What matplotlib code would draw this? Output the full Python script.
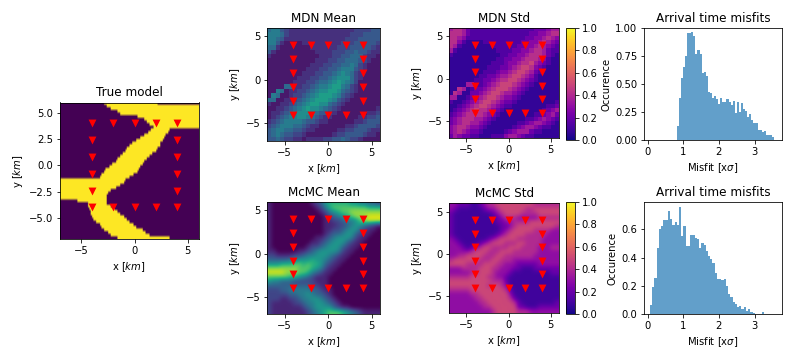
import matplotlib

matplotlib.use("Agg")
import matplotlib.pyplot as plt
import numpy as np

# Receiver positions in km
rec_x = [-4, -2, 0, 2, 4, -4, -2, 0, 2, 4, -4, 4, -4, 4, -4, 4, -4, 4]
rec_y = [4, 4, 4, 4, 4, -4, -4, -4, -4, -4, 2.4, 2.4, 0.8, 0.8, -0.8, -0.8, -2.4, -2.4]

# True model: yellow span (x start, x end) of each 0.25 km row, top row first
true_spans = [
    (-2.9, 2.1), (-2.6, 6), (-2.3, 6), (-1.65, 6), (-1.4, 6), (0.3, 6), (0.85, 6),
    (1.1, 6), (1.43, 6), (1.8, 6), (1.55, 3.31), (1.24, 3.13), (0.92, 2.9), (0.55, 2.75),
    (0.17, 2.59), (-0.24, 2.43), (-0.46, 2.37), (-0.71, 2.18), (-0.93, 1.96), (-1.09, 1.65),
    (-1.4, 1.33), (-1.6, 1.11), (-1.81, 0.92), (-2.13, 0.7), (-2.35, 0.55), (-2.75, 0.39),
    (-2.9, 0.23), (-3.07, -0.08), (-3.3, -0.46), (-7, -0.87), (-7, -1.02), (-7, -1.4),
    (-7, -1.81), (-7, -2.28), (-7, -2.5), (-7, -2.6), (-7, -2.66), (-5.43, -2.66),
    (-4.42, -2.6), (-4.33, -2.2), (-4.23, -1.87), (-4.17, -1.6), (-4.07, -1.34),
    (-3.98, -1.02), (-3.86, -0.8), (-3.6, -0.55), (-3.3, -0.15), (-3.07, 0.17),
    (-2.85, 0.7), (-2.44, 1.02), (-2.22, 1.43), (-1.65, 3.2),
]

# Image panels, one digit per 0.5 km cell, top row first
mdn_mean = [
    "56643222222222222222333344", "66653222222222222223334444",
    "66542222222222222233344444", "66421111222222222333444443",
    "55211111112222223334444432", "42111111111222233344544322",
    "21111111111122233445553221", "11111111111222334455543211",
    "11111111112223344556532111", "11111111122233445666432111",
    "11111111222334456765321111", "11111112223344567775321111",
    "11111122233455678765311111", "11115522334566788653211111",
    "11651223345677887543211111", "16511233456788876432111111",
    "55112234567888764321111111", "21122345678877543211111111",
    "11223456787765432111111112", "12234567776544321111111223",
    "12345667765432211111122334", "23456666544322111111223444",
    "34566655432211111122344443", "45665544322111112233444322",
    "45654433211111123344443221", "44543322122223344543321111",
]
mdn_std = [
    "56653222222222222222333455", "66653222222222222223344566",
    "66542222222222222233445654", "66421111222222222334456543",
    "65211111112222223344565432", "52111111111222233445665322",
    "21111111111122334456665321", "11111111111223344566654211",
    "11111111112223445667543211", "11111111122233456776432111",
    "11111111222344567765321111", "11111112233455677654211111",
    "11111122334566776543211111", "11115522345677765432111111",
    "11651233456777654321111111", "16511334567765543211111111",
    "55112345677654432111111111", "21123456776543321111111112",
    "11234567765432211111111223", "12345676654321111111112345",
    "23456666543211111111223453", "34566655432111111122345432",
    "34566554321111112234554321", "45665443211111123455432211",
    "45654332111112345553221111", "35433221112224554322111111",
]
mcmc_mean = [
    "10000000001235666665544332", "10000000000124677777777666",
    "10000000000012456778888888", "10000000000001234567888999",
    "10000000000001122344578999", "10000000000001112234554321",
    "10000000000001122345532110", "10000000000001233455321100",
    "10000000000112345554211000", "10000000001123455532110000",
    "10000000012234555321100000", "11000001123455554211000000",
    "22111122344555432110000000", "33333445556554321100000000",
    "55566677676653211000000000", "88888887776542110000000000",
    "99998887764321100000000000", "77777665432111000000000000",
    "54433322222111000000000000", "33333333332211000000000000",
    "22233444443321100000000000", "22222334454332100000000000",
    "22211223445543210000000000", "21111122344554321000000000",
    "21111111234555532110000000", "21111111123456777654321111",
]
mcmc_std = [
    "33222112344555555555444444", "32111111233455555544555555",
    "21111111112345555444455555", "21111111111234443333344444",
    "21111111111223344445555555", "21111111111122345555555554",
    "21111111111123455555444433", "21111111111234555544444333",
    "32111111123455554444443333", "33211112345554445544443333",
    "33321234554444555444433344", "33333455544455544444433333",
    "33445555444554444444333333", "45555554445544433333333333",
    "55554444555443332222233333", "33344445554433322111222222",
    "33333445554333211111111122", "44444555544332111111111111",
    "55555555554442111111111111", "55555555545543111111111111",
    "44444555555554211111111111", "33333445555555311111111111",
    "33333344555555421111111111", "33333334455555542111111112",
    "33333333445555552211122222", "33333333334555554443333333",
]

# Histogram heights
misfit_mdn = [
    0.13, 0.38, 0.55, 0.65, 0.75, 0.95, 0.95, 0.965, 0.93, 0.77, 0.80, 0.77, 0.60, 0.61,
    0.57, 0.43, 0.42, 0.38, 0.39, 0.37, 0.32, 0.38, 0.34, 0.34, 0.37, 0.34, 0.31, 0.35,
    0.24, 0.34, 0.25, 0.33, 0.28, 0.26, 0.21, 0.23, 0.18, 0.15, 0.15, 0.09, 0.09, 0.07,
    0.085, 0.045, 0.045, 0.045, 0.03,
]
misfit_mcmc = [
    0.065, 0.195, 0.255, 0.465, 0.60, 0.62, 0.665, 0.665, 0.73, 0.67, 0.63, 0.655, 0.63,
    0.755, 0.55, 0.62, 0.48, 0.48, 0.56, 0.56, 0.54, 0.53, 0.47, 0.50, 0.49, 0.45, 0.41,
    0.39, 0.36, 0.29, 0.25, 0.25, 0.24, 0.25, 0.20, 0.14, 0.12, 0.085, 0.07, 0.05, 0.06,
    0.04, 0.055, 0.02, 0.035, 0.015, 0.01, 0.005, 0.0, 0.005, 0.015,
]

W, H = 792, 360
EXTENT = [-7, 6, -7, 6]


def px_axes(fig, left, top, right, bottom):
    return fig.add_axes([left / W, 1 - bottom / H, (right - left) / W, (bottom - top) / H])


def digits(rows, scale):
    return np.array([[int(c) for c in row] for row in rows]) * scale


def image_panel(ax, data, title, cmap, interp):
    im = ax.imshow(data, extent=EXTENT, cmap=cmap, vmin=0, vmax=1, aspect="auto",
                   interpolation=interp)
    ax.scatter(rec_x, rec_y, marker="v", c="red", s=62, linewidths=0, zorder=3)
    ax.set_title(title)
    ax.set_xlabel("x [$km$]")
    ax.set_ylabel("y [$km$]")
    ax.set_xticks([-5, 0, 5])
    ax.set_yticks([-5, 0, 5])
    return im


def misfit_panel(ax, values, start, width, yticks, yfmt):
    edges = start + width * np.arange(len(values))
    ax.bar(edges, values, width=width, align="edge", color="C0", alpha=0.7)
    ax.set_title("Arrival time misfits")
    ax.set_xlabel(r"Misfit [x$\sigma$]")
    ax.set_ylabel("Occurence")
    ax.set_xlim(-0.09, 3.76)
    ax.set_xticks([0, 1, 2, 3])
    ax.set_yticks(yticks)
    ax.set_yticklabels([yfmt % t for t in yticks])


fig = plt.figure(figsize=(W / 72, H / 72), dpi=72)

# True model
true_model = np.zeros((52, 104))
cell_x = -7 + 0.125 * (np.arange(104) + 0.5)
for row, (x0, x1) in enumerate(true_spans):
    true_model[row, (cell_x >= x0) & (cell_x < x1)] = 1
ax = px_axes(fig, 60, 102.5, 198.5, 239)
ax.imshow(true_model, extent=EXTENT, cmap="viridis", vmin=0, vmax=1, aspect="auto",
          interpolation="bilinear")
ax.scatter(rec_x, rec_y, marker="v", c="red", s=62, linewidths=0, zorder=3)
ax.set_title("True model")
ax.set_xlabel("x [$km$]")
ax.set_ylabel("y [$km$]")
ax.set_xticks([-5, 0, 5])
ax.set_yticks([-5.0, -2.5, 0.0, 2.5, 5.0])

# Means
ax = px_axes(fig, 267.3, 27.7, 380.3, 140.7)
image_panel(ax, digits(mdn_mean, 0.07), "MDN Mean", "viridis", "nearest")
ax = px_axes(fig, 267.3, 201.7, 380.3, 314.3)
image_panel(ax, digits(mcmc_mean, 0.105), "McMC Mean", "viridis", "bicubic")

# Stds with colorbars
ax = px_axes(fig, 449.3, 28, 559.3, 138.3)
im = image_panel(ax, digits(mdn_std, 0.07), "MDN Std", "plasma", "nearest")
fig.colorbar(im, cax=px_axes(fig, 566, 28, 574.7, 140))
ax = px_axes(fig, 449.3, 203.3, 559.3, 313.3)
im = image_panel(ax, digits(mcmc_std, 0.1), "McMC Std", "plasma", "bicubic")
fig.colorbar(im, cax=px_axes(fig, 566, 201.7, 574.7, 314.3))

# Misfit histograms
ax = px_axes(fig, 644.3, 27.7, 781.7, 140.3)
misfit_panel(ax, misfit_mdn, 0.82, 0.058, [0, 0.25, 0.5, 0.75, 1.0], "%.2f")
ax.set_ylim(0, 1.0)
ax = px_axes(fig, 644.3, 201.7, 781.7, 314.3)
misfit_panel(ax, misfit_mcmc, 0.07, 0.0625, [0, 0.2, 0.4, 0.6], "%.1f")
ax.set_ylim(0, 0.795)

fig.savefig("out.png", dpi=72)
